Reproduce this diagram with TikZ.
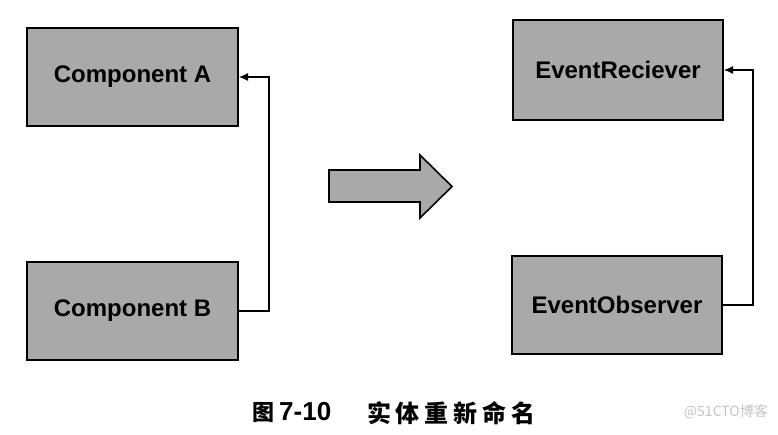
\documentclass[tikz,border=0pt]{standalone}
\usepackage{fontspec}
\setmainfont{Liberation Sans}
\newfontfamily\cjk{Noto Sans CJK SC}
\newfontfamily\cjkwide{Noto Sans CJK SC}[LetterSpace=20]
\usetikzlibrary{arrows.meta, positioning}
\definecolor{boxgray}{HTML}{A9A9A9}
\definecolor{markgray}{HTML}{C4C4C4}

\begin{document}
\begin{tikzpicture}[x=1pt, y=-1pt,
    classbox/.style={draw=black, line width=2pt, fill=boxgray, minimum width=211pt, minimum height=98pt, inner sep=0pt, font=\fontsize{24}{28}\selectfont\bfseries},
    link/.style={draw=black, line width=1.1pt, -{Latex[length=9pt, width=8pt]}}]
    \useasboundingbox (0,0) rectangle (778,435);

    % before renaming
    \node[classbox] (compa) at (132.5, 77) {Component A};
    \node[classbox] (compb) at (132.5, 311) {Component B};
    \draw[link] (compb.east) -- ++(30,0) |- (compa.east);

    % after renaming
    \node[classbox, minimum width=210pt, minimum height=100pt] (recv) at (618, 70) {EventReciever};
    \node[classbox, minimum width=210pt] (obs) at (617, 305) {EventObserver};
    \draw[link] (obs.east) -- ++(30,0) |- (recv.east);

    % big arrow in the middle
    \draw[line width=1.6pt, fill=boxgray] (329,170) -- (420,170) -- (420,155) -- (452,186.5) -- (420,218) -- (420,202) -- (329,202) -- cycle;

    % caption
    \node[anchor=west, inner sep=0pt, font=\fontsize{22}{26}\selectfont\bfseries\cjk] (fignum) at (252, 413) {图};
    \node[anchor=west, inner sep=0pt, font=\fontsize{26}{30}\selectfont\bfseries] (fignr) at (279, 412) {7-10};
    \node[anchor=west, inner sep=0pt, font=\fontsize{24}{28}\selectfont\bfseries\cjkwide] (figtitle) at (367, 413) {实体重新命名};
    \node[anchor=east, inner sep=0pt, font=\fontsize{14}{16}\selectfont\cjk, text=markgray] (mark) at (768, 412) {@51CTO博客};
\end{tikzpicture}
\end{document}
